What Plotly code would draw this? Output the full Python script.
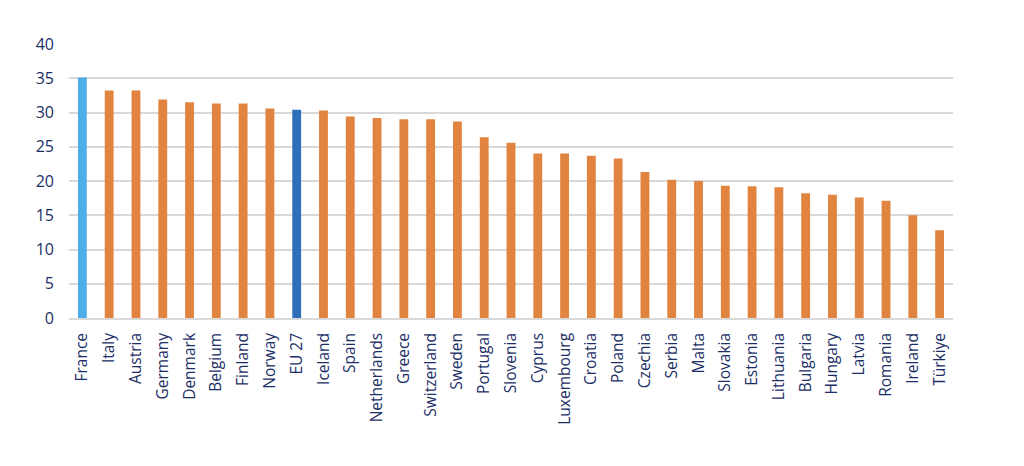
import plotly.graph_objects as go

countries = ["France", "Italy", "Austria", "Germany", "Denmark", "Belgium", "Finland",
             "Norway", "EU 27", "Iceland", "Spain", "Netherlands", "Greece", "Switzerland",
             "Sweden", "Portugal", "Slovenia", "Cyprus", "Luxembourg", "Croatia", "Poland",
             "Czechia", "Serbia", "Malta", "Slovakia", "Estonia", "Lithuania", "Bulgaria",
             "Hungary", "Latvia", "Romania", "Ireland", "Türkiye"]
values = [35.1, 33.2, 33.2, 31.9, 31.5, 31.3, 31.3,
          30.6, 30.4, 30.3, 29.4, 29.2, 29.0, 29.0,
          28.7, 26.4, 25.6, 24.0, 24.0, 23.7, 23.3,
          21.3, 20.2, 20.0, 19.3, 19.25, 19.1, 18.2,
          18.0, 17.6, 17.1, 15.0, 12.8]

# France highlighted, EU average in dark blue, the rest orange
colors = []
for c in countries:
    if c == "France":
        colors.append("#4EAEEA")
    elif c == "EU 27":
        colors.append("#2F6EBA")
    else:
        colors.append("#E0843F")

fig = go.Figure(go.Bar(x=countries, y=values, marker_color=colors,
                       marker_line_width=0, width=0.33))

font_color = "#1B2F66"
fig.update_layout(
    width=1024, height=466,
    margin=dict(l=61, r=79, t=36, b=156),
    plot_bgcolor="white", paper_bgcolor="white",
    font=dict(family="Open Sans", size=15, color=font_color),
    showlegend=False,
)
fig.update_xaxes(tickangle=-90, showline=True, linecolor="#D9D9D9", linewidth=1.5,
                 ticks="", ticklabelstandoff=7,
                 tickfont=dict(size=15.5, color=font_color))
fig.update_yaxes(range=[0, 40], dtick=5, showgrid=True, gridcolor="#D9D9D9",
                 gridwidth=1.5, zeroline=False, ticks="", ticklabelstandoff=14,
                 tickfont=dict(size=16, color=font_color))

fig.write_html("out.html")
